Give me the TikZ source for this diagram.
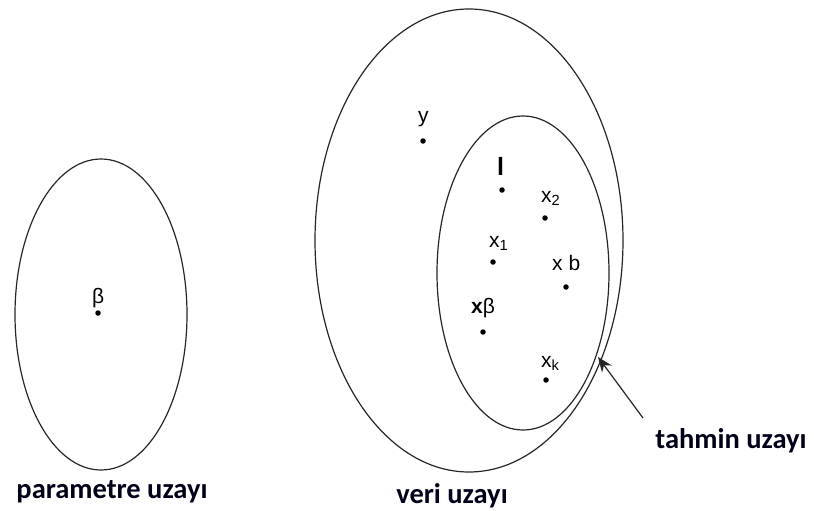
\documentclass[tikz,border=0pt]{standalone}
\usepackage{fontspec}
\setmainfont{Liberation Sans}
\newfontfamily\capfont{Carlito}
\usetikzlibrary{arrows.meta}
\begin{document}
\begin{tikzpicture}[x=1pt,y=-1pt,
  curve/.style={draw=black!85,line width=1.2pt},
  pt/.style={circle,fill=black,inner sep=0pt,minimum size=5.5pt},
  lab/.style={anchor=base west,inner sep=0pt,font=\fontsize{21}{23}\selectfont},
  captext/.style={anchor=base,inner sep=0pt,font=\capfont\bfseries\fontsize{28.5}{30}\selectfont,text=black!90!blue}]
\useasboundingbox (0,0) rectangle (814,511);
% ellipses
\draw[curve] (101,314.5) ellipse [x radius=86pt, y radius=155.5pt];
\draw[curve] (469,240.5) ellipse [x radius=154pt, y radius=231.5pt];
\draw[curve] (523,273) ellipse [x radius=86pt, y radius=157pt];
% points
\node[pt] (b) at (98,313) {};
\node[pt] (y) at (423,141) {};
\node[pt] (yh) at (502,190) {};
\node[pt] (x2) at (545,218) {};
\node[pt] (x1) at (493,262) {};
\node[pt] (xb) at (566,287) {};
\node[pt] (xbeta) at (483,332) {};
\node[pt] (xk) at (546,380) {};
% labels
\node[lab] (lb) at (92,303) {β};
\node[lab] (ly) at (418,122) {y};
\node[lab,font=\bfseries\fontsize{25}{27}\selectfont] (lyh) at (497,175) {l};
\node[lab] (lx2) at (541,202) {x\textsubscript{2}};
\node[lab] (lx1) at (489,247) {x\textsubscript{1}};
\node[lab] (lxb) at (552,270) {x b};
\node[lab] (lxbeta) at (471,313) {\textbf{x}β};
\node[lab] (lxk) at (541,367) {x\textsubscript{k}};
% arrow
\coordinate (tail) at (643,418);
\coordinate (tip) at (598,357);
\draw[line width=1.2pt,black!85,-{Stealth[length=15pt,width=12pt]}] (tail) -- (tip);
% captions
\node[captext] (c1) at (112,498) {parametre uzayı};
\node[captext] (c2) at (452,503) {veri uzayı};
\node[captext] (c3) at (731,448) {tahmin uzayı};
\end{tikzpicture}
\end{document}
